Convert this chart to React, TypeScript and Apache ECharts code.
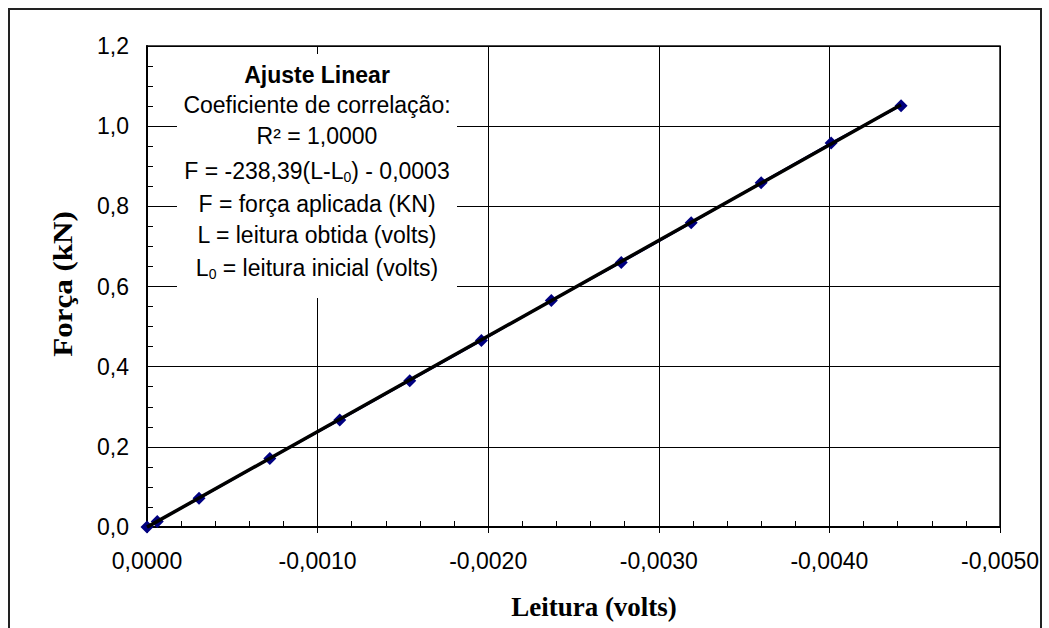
import { useEffect, useRef } from "react";
import * as echarts from "echarts";

// Calibration readings (volts) and applied force (kN)
const leitura = [0, -0.00006, -0.000305, -0.00072, -0.00113, -0.00154, -0.00196, -0.00237, -0.00278, -0.00319, -0.0036, -0.00401, -0.00442];
const forca = [0, 0.014, 0.0715, 0.171, 0.267, 0.365, 0.465, 0.565, 0.66, 0.759, 0.859, 0.958, 1.051];

// Linear fit F = slope * (L - L0) + intercept
const slope = -238.39;
const intercept = -0.0003;

const boxLines = [
  "{b|Ajuste Linear}",
  "Coeficiente de correlação:",
  "R² = 1,0000",
  "F = -238,39(L-L{s|0}) - 0,0003",
  "F = força aplicada (KN)",
  "L = leitura obtida (volts)",
  "L{s|0} = leitura inicial (volts)",
];
const boxLineY = [75, 105, 136, 171, 204, 235, 268];

const SANS = '"Liberation Sans", Arial, sans-serif';
const SERIF = '"Liberation Serif", "Times New Roman", serif';

const fmtX = (v: number) => (Math.abs(v) < 1e-12 ? "0,0000" : v.toFixed(4).replace(".", ","));
const fmtY = (v: number) => v.toFixed(1).replace(".", ",");

export default function App() {
  const ref = useRef<HTMLDivElement>(null);

  useEffect(() => {
    if (!ref.current) return;
    const chart = echarts.init(ref.current, undefined, { renderer: "svg" });

    const xMin = Math.min(...leitura);
    const xMax = Math.max(...leitura);
    const trend = [
      [xMax, slope * xMax + intercept],
      [xMin, slope * xMin + intercept],
    ];

    const commonX = {
      type: "value" as const,
      min: -0.005,
      max: 0,
      interval: 0.001,
      inverse: true,
      position: "bottom" as const,
    };

    chart.setOption({
      animation: false,
      backgroundColor: "#fff",
      textStyle: { fontFamily: SANS },
      grid: {
        left: 147,
        right: 49,
        top: 46,
        bottom: 101,
        show: true,
        borderColor: "#111",
        borderWidth: 1.5,
        backgroundColor: "transparent",
      },
      xAxis: [
        {
          ...commonX,
          axisLine: { onZero: false, lineStyle: { color: "#000", width: 2 } },
          axisTick: { show: true, inside: true, length: 6, lineStyle: { color: "#000" } },
          minorTick: { show: true, splitNumber: 5, length: 6, lineStyle: { color: "#000" } },
          axisLabel: { formatter: fmtX, color: "#000", fontSize: 23, fontFamily: SANS, margin: 22 },
          splitLine: { show: true, lineStyle: { color: "#000", width: 1 } },
        },
        {
          ...commonX,
          offset: 0,
          axisLine: { show: false, onZero: false },
          axisTick: { show: true, inside: false, length: 6, lineStyle: { color: "#000" } },
          axisLabel: { show: false },
          splitLine: { show: false },
        },
      ],
      yAxis: {
        type: "value",
        min: 0,
        max: 1.2,
        interval: 0.2,
        axisLine: { show: true, lineStyle: { color: "#000", width: 2 } },
        axisTick: { show: true, inside: true, length: 7, lineStyle: { color: "#000" } },
        minorTick: { show: true, splitNumber: 4, length: 6, lineStyle: { color: "#000" } },
        axisLabel: { formatter: fmtY, color: "#000", fontSize: 23, fontFamily: SANS, margin: 18 },
        splitLine: { show: true, lineStyle: { color: "#000", width: 1 } },
      },
      series: [
        {
          type: "line",
          data: leitura.map((x, i) => [x, forca[i]]),
          symbol: "diamond",
          symbolSize: 13,
          itemStyle: { color: "#000080" },
          lineStyle: { color: "#000080", width: 2 },
          z: 2,
        },
        {
          type: "line",
          data: trend,
          symbol: "none",
          lineStyle: { color: "#000", width: 3.5 },
          z: 3,
        },
      ],
      graphic: [
        {
          type: "rect",
          shape: { x: 9, y: 9, width: 1032, height: 660 },
          style: { fill: "none", stroke: "#222", lineWidth: 2 },
          z: 50,
          silent: true,
        },
        {
          type: "rect",
          shape: { x: 177, y: 54, width: 280, height: 244 },
          style: { fill: "#fff" },
          z: 90,
          silent: true,
        },
        ...boxLines.map((t, i) => ({
          type: "text",
          x: 317,
          y: boxLineY[i],
          z: 100,
          silent: true,
          style: {
            text: t,
            fill: "#000",
            fontSize: 23,
            fontFamily: SANS,
            lineHeight: 26,
            align: "center",
            verticalAlign: "middle",
            textAlign: "center",
            textVerticalAlign: "middle",
            rich: {
              b: { fontSize: 23, fontWeight: "bold", fontFamily: SANS, lineHeight: 26 },
              s: { fontSize: 14, fontFamily: SANS, lineHeight: 12, verticalAlign: "bottom" },
            },
          },
        })),
        {
          type: "text",
          x: 63,
          y: 284,
          rotation: Math.PI / 2,
          scaleX: 1.15,
          z: 100,
          silent: true,
          style: {
            text: "Força (kN)",
            fill: "#000",
            fontSize: 27,
            fontWeight: "bold",
            fontFamily: SERIF,
            align: "center",
            verticalAlign: "middle",
            textAlign: "center",
            textVerticalAlign: "middle",
          },
        },
        {
          type: "text",
          x: 594,
          y: 607,
          z: 100,
          silent: true,
          style: {
            text: "Leitura (volts)",
            fill: "#000",
            fontSize: 27,
            fontWeight: "bold",
            fontFamily: SERIF,
            align: "center",
            verticalAlign: "middle",
            textAlign: "center",
            textVerticalAlign: "middle",
          },
        },
      ],
    });

    return () => chart.dispose();
  }, []);

  return (
    <div
      ref={ref}
      style={{ position: "fixed", left: 0, top: 0, width: 1049, height: 628 }}
    />
  );
}
